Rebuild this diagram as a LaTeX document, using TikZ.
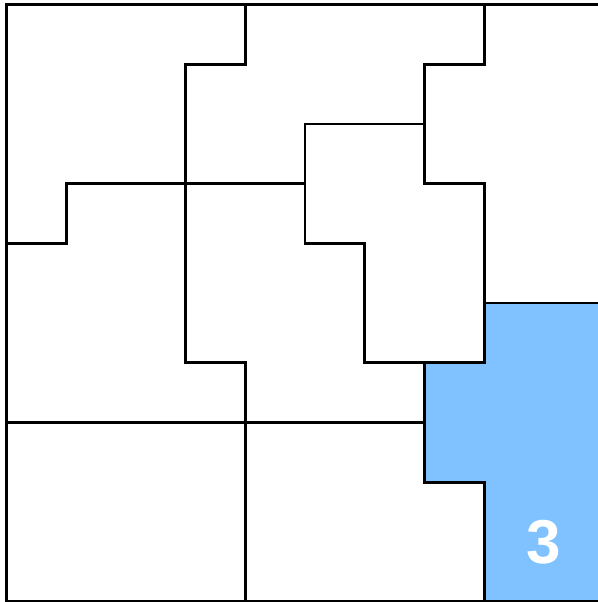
\documentclass[tikz,border=0pt]{standalone}
\usepackage{fontspec}
\setmainfont{Liberation Sans}
\definecolor{regionblue}{RGB}{128,193,255}
\tikzset{
  wall/.style={draw=black,line width=2.8bp,line cap=rect,line join=miter},
  clue/.style={text=white,font=\bfseries\fontsize{62bp}{62bp}\selectfont,inner sep=0pt}
}
\begin{document}
\begin{tikzpicture}[x=1bp,y=-1bp]
\useasboundingbox (0,0) rectangle (598,602);
\clip (0,0) rectangle (598,602);
\begin{scope}[shift={(6.5,4.5)},x=59.7bp,y=-59.7bp]
  \fill[white] (0,0) rectangle (10,10);
  \path[fill=regionblue,wall] (8,5) -- (10,5) -- (10,10) -- (8,10) -- (8,8) -- (7,8) -- (7,6) -- (8,6) -- cycle;
  \draw[wall] (4,0) -- (4,1) -- (3,1) -- (3,6) -- (4,6) -- (4,10);
  \draw[wall] (8,0) -- (8,1) -- (7,1) -- (7,3) -- (8,3) -- (8,5);
  \draw[wall] (5,2) -- (7,2);
  \draw[wall] (5,2) -- (5,4) -- (6,4) -- (6,6) -- (8,6);
  \draw[wall] (0,4) -- (1,4) -- (1,3) -- (5,3);
  \draw[wall] (0,7) -- (7,7);
  \draw[wall] (0,0) rectangle (10,10);
  \node[clue] (c3) at (9,9) {3};
\end{scope}
\end{tikzpicture}
\end{document}
